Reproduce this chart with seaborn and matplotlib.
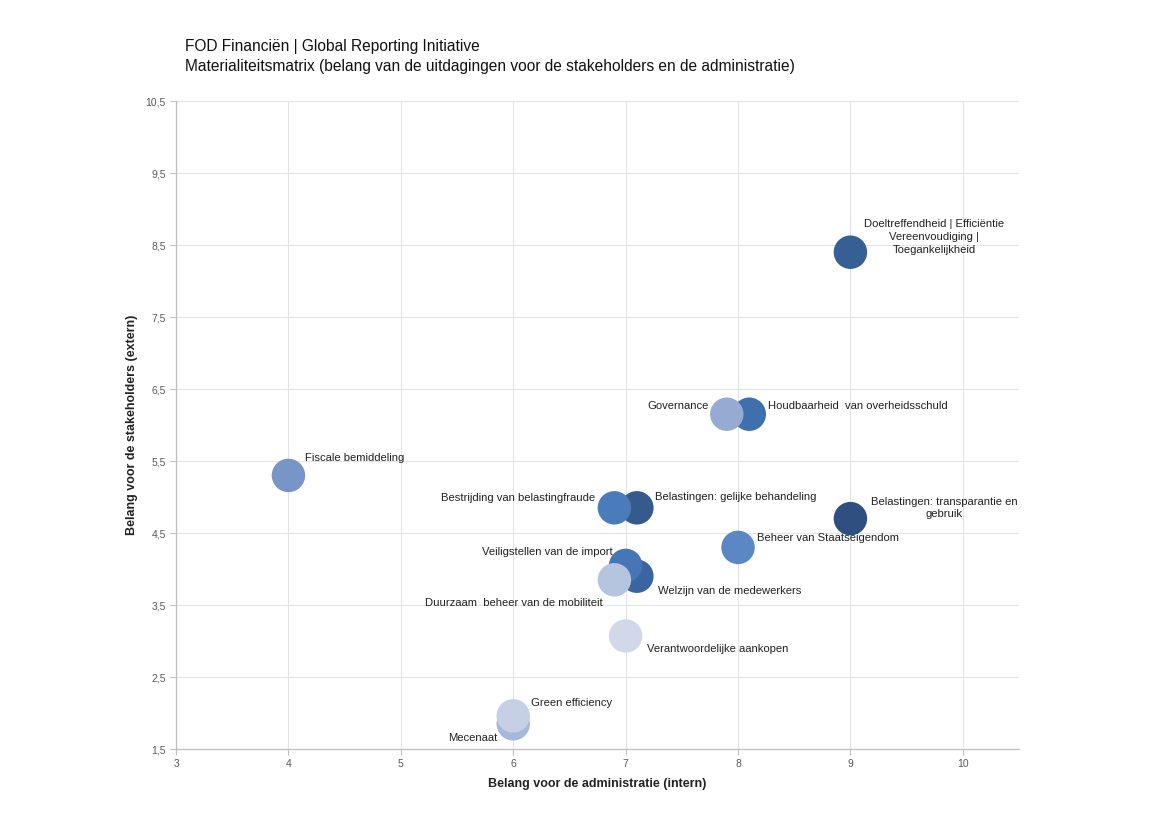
import matplotlib
matplotlib.use("Agg")
import matplotlib.pyplot as plt
import seaborn as sns
import pandas as pd
from matplotlib.ticker import FixedLocator, FuncFormatter

# ---- data (draw order matters for overlaps) ----
labels = [
    "Doeltreffendheid | Efficiëntie\nVereenvoudiging |\nToegankelijkheid",
    "Houdbaarheid  van overheidsschuld",
    "Governance",
    "Fiscale bemiddeling",
    "Belastingen: gelijke behandeling",
    "Bestrijding van belastingfraude",
    "Belastingen: transparantie en\ngebruik",
    "Beheer van Staatseigendom",
    "Welzijn van de medewerkers",
    "Veiligstellen van de import",
    "Duurzaam  beheer van de mobiliteit",
    "Verantwoordelijke aankopen",
    "Mecenaat",
    "Green efficiency",
]
intern = [9.0, 8.1, 7.9, 4.0, 7.1, 6.9, 9.0, 8.0, 7.1, 7.0, 6.9, 7.0, 6.0, 6.0]
extern = [8.4, 6.15, 6.15, 5.3, 4.85, 4.85, 4.7, 4.3, 3.9, 4.05, 3.85, 3.07, 1.85, 1.96]
colors = ["#365f94", "#3f6fad", "#95abd2", "#7895c8", "#355a8c", "#4a7bba",
          "#2f4f80", "#5b87c5", "#3a65a0", "#4676b5", "#b5c4df", "#d0d8ea",
          "#a6b8dc", "#c5d0e6"]
x_ticks = [3, 4, 5, 6, 7, 8, 9, 10]
y_ticks = [1.5, 2.5, 3.5, 4.5, 5.5, 6.5, 7.5, 8.5, 9.5, 10.5]

# label offsets in pixels (dx, dy) and alignment
offsets = [(84, 33, "center", "top"), (19, 8, "left", "center"), (-18, 8, "right", "center"),
           (17, 17, "left", "center"), (18, 11, "left", "center"), (-19, 10, "right", "center"),
           (94, 22, "center", "top"), (19, 9, "left", "center"), (21, -15, "left", "center"),
           (-13, 13, "right", "center"), (-12, -23, "right", "center"), (21, -13, "left", "center"),
           (-16, -14, "right", "center"), (18, 13, "left", "center")]

df = pd.DataFrame({"label": labels, "intern": intern, "extern": extern})

sns.set_theme(style="whitegrid")
plt.rcParams["font.family"] = ["Liberation Sans", "DejaVu Sans"]

fig = plt.figure(figsize=(11.69, 8.26), dpi=100)
ax = fig.add_axes([0.1506, 0.0932, 0.7211, 0.7845])

sns.scatterplot(data=df, x="intern", y="extern", hue="label", palette=colors,
                hue_order=labels, s=580, edgecolor="none", linewidth=0,
                legend=False, ax=ax, zorder=3)

for i, lab in enumerate(labels):
    dx, dy, ha, va = offsets[i]
    ax.annotate(lab, (intern[i], extern[i]), xytext=(dx, dy), textcoords="offset pixels",
                ha=ha, va=va, fontsize=8.1, color="#222222", zorder=4,
                multialignment="center", linespacing=1.35)

ax.set_xlim(3, 10.5)
ax.set_ylim(1.5, 10.5)
ax.xaxis.set_major_locator(FixedLocator(x_ticks))
ax.yaxis.set_major_locator(FixedLocator(y_ticks))
ax.yaxis.set_major_formatter(FuncFormatter(lambda v, p: f"{v:.1f}".replace(".", ",")))
ax.xaxis.set_major_formatter(FuncFormatter(lambda v, p: f"{int(v)}"))
ax.tick_params(axis="both", labelsize=7.5, labelcolor="#595959", length=4,
               color="#bfbfbf", width=0.8, direction="out", bottom=True, left=True)
ax.grid(True, color="#e4e4e4", linewidth=0.8)
ax.set_axisbelow(True)
for s in ["top", "right"]:
    ax.spines[s].set_visible(False)
for s in ["left", "bottom"]:
    ax.spines[s].set_color("#bfbfbf")
    ax.spines[s].set_linewidth(0.9)

ax.set_xlabel("Belang voor de administratie (intern)", fontsize=9, fontweight="bold",
              color="#222222", labelpad=6)
ax.set_ylabel("Belang voor de stakeholders (extern)", fontsize=9, fontweight="bold",
              color="#222222", labelpad=5)

fig.text(0.158, 0.944, "FOD Financiën | Global Reporting Initiative", fontsize=11.2,
         color="#111111", va="center")
fig.text(0.158, 0.920, "Materialiteitsmatrix (belang van de uitdagingen voor de stakeholders en de administratie)",
         fontsize=11.2, color="#111111", va="center")

fig.savefig("out.png", dpi=100, facecolor="white")
